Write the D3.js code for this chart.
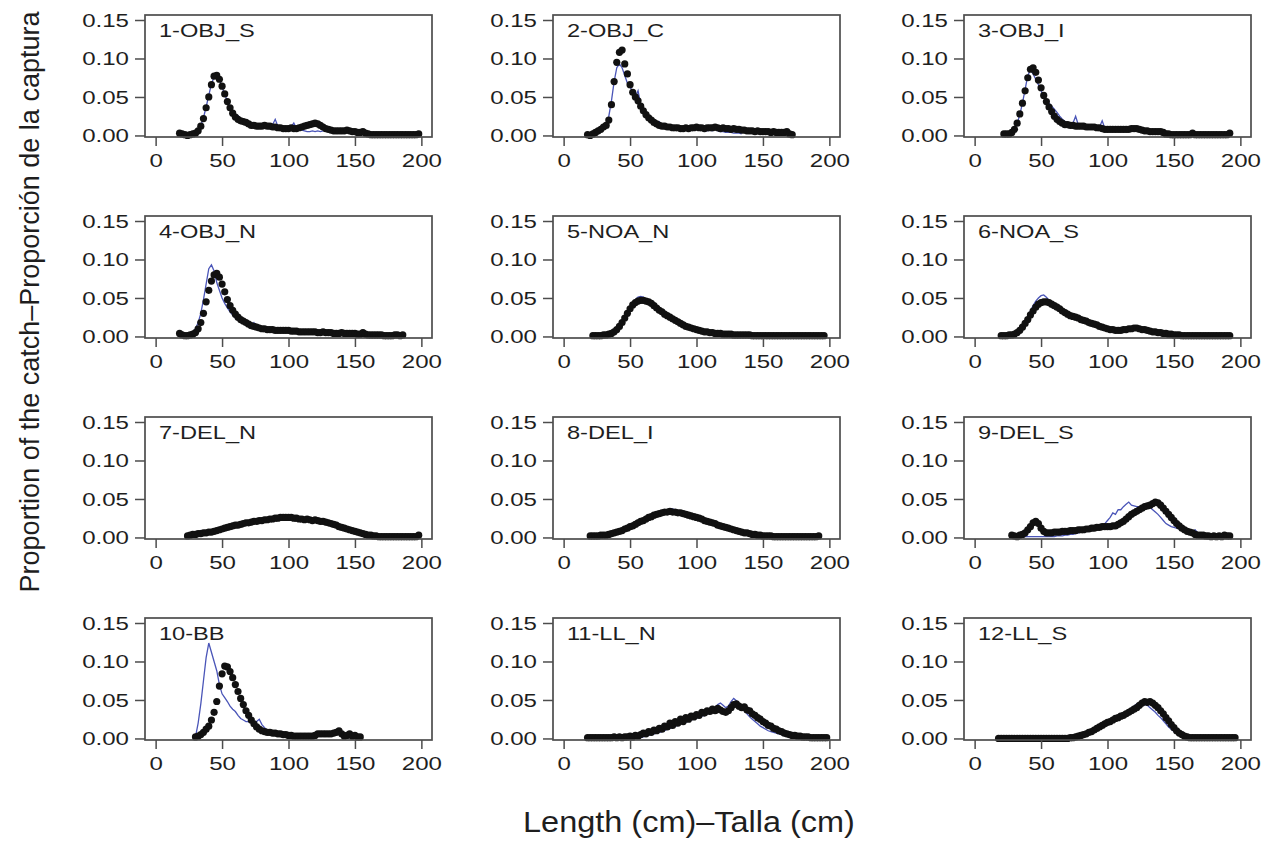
<!DOCTYPE html>
<html><head><meta charset="utf-8">
<script src="https://cdn.jsdelivr.net/npm/d3@7"></script>
<style>
body{margin:0;background:#fff}
text{font-family:"Liberation Sans",Arial,Helvetica,sans-serif;fill:#1e1e1e}
</style>
</head><body>
<svg id="chart" width="1270" height="843"></svg>
<script>
// ---------- data ----------
const panelNames = ["1-OBJ_S","2-OBJ_C","3-OBJ_I","4-OBJ_N","5-NOA_N","6-NOA_S","7-DEL_N","8-DEL_I","9-DEL_S","10-BB","11-LL_N","12-LL_S"];
const binWidth = 2; // cm between successive length classes
const xTicks = [0,50,100,150,200];
const yTicks = [0.00,0.05,0.10,0.15];
const yTickLabels = ["0.00","0.05","0.10","0.15"];
const xLabel = "Length (cm)\u2013Talla (cm)";
const yLabel = "Proportion of the catch\u2013Proporci\u00f3n de la captura";

// first length class (cm) of each series
const obsStart  = [18,18,22,18,22,20,24,20,28,30,18,18];
const predStart = [18,18,22,18,22,20,24,20,28,30,18,18];

// observed proportions (black dots)
const obs1 = [0.003,0.002,0.001,0.000,0.001,0.002,0.003,0.006,0.012,0.022,0.036,0.050,0.066,0.077,0.078,0.073,0.064,0.054,0.044,0.036,0.029,0.024,0.021,0.019,0.018,0.017,0.015,0.013,0.013,0.012,0.012,0.012,0.013,0.012,0.012,0.011,0.011,0.010,0.010,0.009,0.009,0.009,0.010,0.009,0.009,0.010,0.011,0.012,0.013,0.014,0.015,0.016,0.015,0.013,0.011,0.009,0.008,0.007,0.006,0.006,0.006,0.006,0.006,0.007,0.006,0.005,0.005,0.004,0.004,0.005,0.003,0.002,0.001,0.001,0.001,0.001,0.001,0.001,0.001,0.001,0.001,0.001,0.001,0.001,0.001,0.001,0.001,0.001,0.001,0.001,0.002];
const obs2 = [0.001,0.000,0.002,0.004,0.006,0.008,0.011,0.013,0.020,0.040,0.070,0.095,0.108,0.111,0.093,0.080,0.066,0.056,0.050,0.045,0.038,0.032,0.027,0.023,0.020,0.017,0.015,0.013,0.012,0.012,0.011,0.011,0.010,0.010,0.010,0.009,0.009,0.010,0.009,0.010,0.010,0.011,0.010,0.010,0.009,0.010,0.010,0.010,0.011,0.010,0.009,0.010,0.009,0.009,0.008,0.009,0.008,0.008,0.007,0.007,0.006,0.006,0.006,0.005,0.006,0.005,0.005,0.005,0.005,0.004,0.005,0.004,0.004,0.004,0.004,0.005,0.002,0.001];
const obs3 = [0.002,0.002,0.002,0.004,0.008,0.016,0.028,0.042,0.058,0.075,0.086,0.088,0.082,0.072,0.062,0.052,0.044,0.037,0.031,0.025,0.021,0.018,0.016,0.014,0.014,0.013,0.013,0.012,0.012,0.012,0.012,0.011,0.011,0.011,0.011,0.010,0.010,0.009,0.008,0.008,0.008,0.008,0.008,0.008,0.008,0.008,0.008,0.008,0.009,0.009,0.009,0.008,0.007,0.006,0.006,0.005,0.005,0.005,0.005,0.005,0.004,0.002,0.002,0.001,0.001,0.001,0.001,0.001,0.001,0.001,0.001,0.003,0.001,0.001,0.001,0.001,0.001,0.001,0.001,0.001,0.001,0.001,0.001,0.001,0.001,0.003];
const obs4 = [0.004,0.002,0.001,0.001,0.002,0.003,0.005,0.010,0.018,0.030,0.045,0.060,0.072,0.080,0.082,0.077,0.068,0.058,0.048,0.040,0.034,0.029,0.025,0.022,0.020,0.018,0.016,0.014,0.013,0.012,0.011,0.010,0.010,0.009,0.009,0.009,0.008,0.008,0.008,0.008,0.008,0.008,0.007,0.007,0.007,0.006,0.006,0.006,0.006,0.006,0.006,0.006,0.005,0.005,0.006,0.005,0.005,0.005,0.004,0.004,0.004,0.005,0.004,0.004,0.004,0.004,0.004,0.003,0.003,0.005,0.003,0.002,0.002,0.002,0.002,0.002,0.002,0.001,0.001,0.001,0.001,0.002,0.002,0.001,0.002];
const obs5 = [0.001,0.001,0.001,0.001,0.002,0.002,0.003,0.004,0.006,0.009,0.013,0.018,0.024,0.030,0.036,0.041,0.044,0.046,0.047,0.047,0.046,0.045,0.043,0.040,0.037,0.034,0.032,0.029,0.027,0.025,0.023,0.021,0.019,0.017,0.015,0.013,0.012,0.011,0.010,0.009,0.008,0.007,0.006,0.006,0.005,0.005,0.004,0.004,0.004,0.003,0.003,0.003,0.003,0.002,0.002,0.002,0.002,0.002,0.002,0.002,0.001,0.001,0.001,0.001,0.001,0.001,0.001,0.001,0.001,0.001,0.001,0.001,0.001,0.001,0.001,0.001,0.001,0.001,0.001,0.001,0.001,0.001,0.001,0.001,0.001,0.001,0.001,0.001];
const obs6 = [0.001,0.001,0.001,0.002,0.002,0.003,0.005,0.008,0.012,0.017,0.022,0.028,0.033,0.038,0.042,0.044,0.045,0.045,0.044,0.042,0.040,0.038,0.036,0.033,0.031,0.029,0.027,0.026,0.025,0.024,0.022,0.021,0.020,0.018,0.017,0.016,0.015,0.013,0.012,0.011,0.010,0.009,0.009,0.008,0.008,0.008,0.009,0.009,0.010,0.010,0.011,0.011,0.010,0.009,0.009,0.008,0.007,0.006,0.006,0.005,0.005,0.004,0.004,0.003,0.003,0.002,0.002,0.002,0.001,0.001,0.001,0.001,0.001,0.001,0.001,0.001,0.001,0.001,0.001,0.001,0.001,0.001,0.001,0.001,0.001,0.001,0.001];
const obs7 = [0.002,0.003,0.004,0.004,0.005,0.005,0.006,0.006,0.007,0.007,0.008,0.009,0.010,0.011,0.012,0.013,0.014,0.015,0.016,0.016,0.017,0.018,0.019,0.019,0.020,0.021,0.021,0.022,0.022,0.023,0.023,0.024,0.024,0.025,0.025,0.026,0.026,0.026,0.026,0.026,0.025,0.025,0.024,0.024,0.023,0.024,0.023,0.022,0.023,0.022,0.021,0.021,0.020,0.019,0.018,0.017,0.016,0.014,0.013,0.012,0.011,0.010,0.009,0.008,0.007,0.006,0.005,0.004,0.003,0.003,0.002,0.002,0.001,0.001,0.001,0.001,0.001,0.001,0.001,0.001,0.001,0.001,0.001,0.001,0.001,0.001,0.001,0.003];
const obs8 = [0.002,0.002,0.002,0.002,0.003,0.003,0.003,0.004,0.005,0.006,0.007,0.008,0.009,0.011,0.012,0.014,0.015,0.017,0.019,0.021,0.022,0.024,0.026,0.027,0.029,0.030,0.031,0.032,0.033,0.033,0.034,0.033,0.033,0.032,0.032,0.031,0.030,0.029,0.028,0.027,0.026,0.025,0.024,0.022,0.021,0.020,0.019,0.018,0.016,0.015,0.014,0.013,0.012,0.011,0.010,0.009,0.008,0.007,0.006,0.006,0.005,0.004,0.004,0.003,0.003,0.002,0.002,0.002,0.002,0.001,0.001,0.001,0.001,0.001,0.001,0.001,0.001,0.001,0.001,0.001,0.001,0.001,0.001,0.001,0.001,0.001,0.002];
const obs9 = [0.003,0.002,0.001,0.003,0.004,0.006,0.010,0.014,0.019,0.021,0.018,0.012,0.008,0.006,0.006,0.006,0.007,0.007,0.007,0.008,0.008,0.008,0.009,0.009,0.009,0.010,0.010,0.010,0.011,0.011,0.012,0.012,0.013,0.013,0.014,0.014,0.014,0.014,0.015,0.015,0.017,0.019,0.021,0.024,0.027,0.030,0.032,0.034,0.036,0.038,0.040,0.041,0.042,0.044,0.046,0.045,0.042,0.038,0.034,0.030,0.026,0.022,0.018,0.015,0.012,0.010,0.008,0.007,0.006,0.004,0.003,0.003,0.003,0.002,0.002,0.001,0.002,0.001,0.002,0.001,0.003,0.002,0.002];
const obs10 = [0.002,0.003,0.005,0.008,0.012,0.016,0.024,0.034,0.048,0.068,0.084,0.094,0.093,0.087,0.079,0.070,0.061,0.052,0.044,0.036,0.030,0.024,0.019,0.015,0.012,0.010,0.009,0.008,0.008,0.007,0.007,0.006,0.006,0.005,0.005,0.004,0.004,0.003,0.003,0.003,0.003,0.003,0.003,0.003,0.003,0.004,0.006,0.006,0.006,0.006,0.006,0.006,0.007,0.008,0.010,0.006,0.003,0.004,0.006,0.003,0.004,0.002,0.002];
const obs11 = [0.001,0.001,0.001,0.001,0.001,0.001,0.001,0.001,0.001,0.001,0.002,0.001,0.002,0.001,0.002,0.002,0.003,0.002,0.004,0.003,0.005,0.007,0.006,0.009,0.008,0.011,0.010,0.013,0.012,0.016,0.015,0.020,0.017,0.022,0.020,0.025,0.022,0.027,0.025,0.029,0.028,0.031,0.030,0.034,0.033,0.036,0.035,0.038,0.036,0.039,0.037,0.035,0.034,0.036,0.040,0.044,0.045,0.042,0.040,0.041,0.037,0.036,0.032,0.030,0.027,0.025,0.022,0.020,0.017,0.016,0.013,0.012,0.010,0.009,0.007,0.006,0.005,0.004,0.004,0.003,0.003,0.002,0.002,0.002,0.001,0.001,0.001,0.001,0.001,0.001,0.001];
const obs12 = [0.000,0.000,0.000,0.000,0.000,0.000,0.000,0.000,0.000,0.000,0.000,0.000,0.000,0.000,0.000,0.000,0.000,0.000,0.000,0.000,0.000,0.000,0.000,0.000,0.000,0.000,0.000,0.001,0.001,0.002,0.003,0.004,0.005,0.006,0.008,0.009,0.011,0.013,0.015,0.017,0.019,0.021,0.022,0.024,0.026,0.027,0.029,0.030,0.032,0.034,0.036,0.038,0.040,0.043,0.046,0.048,0.047,0.048,0.046,0.043,0.040,0.036,0.032,0.027,0.023,0.018,0.014,0.010,0.007,0.005,0.003,0.002,0.001,0.001,0.001,0.001,0.001,0.001,0.001,0.001,0.001,0.001,0.001,0.001,0.001,0.001,0.001,0.001,0.001,0.001];

// predicted proportions (blue line)
const pred1 = [0.001,0.001,0.001,0.001,0.002,0.003,0.004,0.007,0.013,0.023,0.037,0.052,0.067,0.076,0.077,0.072,0.063,0.053,0.045,0.037,0.031,0.027,0.026,0.022,0.020,0.018,0.016,0.014,0.014,0.013,0.013,0.012,0.012,0.012,0.012,0.014,0.021,0.012,0.010,0.010,0.009,0.009,0.011,0.016,0.009,0.008,0.007,0.006,0.005,0.005,0.006,0.005,0.006,0.005,0.006,0.007,0.007,0.006,0.006,0.006,0.005,0.005,0.005,0.006,0.005,0.005,0.004,0.004,0.003,0.003,0.002,0.002,0.001,0.001,0.001,0.001,0.001,0.001,0.001,0.001,0.001,0.001,0.001,0.001,0.001,0.001,0.001,0.001,0.001,0.001,0.001];
const pred2 = [0.000,0.001,0.002,0.003,0.005,0.007,0.010,0.015,0.025,0.045,0.070,0.088,0.093,0.088,0.078,0.068,0.062,0.058,0.050,0.058,0.040,0.034,0.030,0.025,0.023,0.020,0.016,0.018,0.013,0.012,0.011,0.010,0.010,0.009,0.009,0.009,0.008,0.012,0.008,0.008,0.007,0.008,0.007,0.007,0.008,0.006,0.007,0.006,0.012,0.006,0.005,0.005,0.004,0.004,0.004,0.003,0.003,0.003,0.002];
const pred3 = [0.001,0.001,0.002,0.004,0.008,0.015,0.027,0.042,0.060,0.078,0.085,0.080,0.073,0.066,0.058,0.050,0.045,0.042,0.038,0.034,0.030,0.025,0.021,0.018,0.016,0.015,0.016,0.025,0.014,0.013,0.012,0.012,0.011,0.011,0.011,0.010,0.011,0.019,0.009,0.008,0.007,0.007,0.007,0.007,0.007,0.006,0.006,0.007,0.008,0.007,0.006,0.005,0.004,0.003,0.003,0.003,0.002,0.002];
const pred4 = [0.001,0.001,0.002,0.003,0.004,0.006,0.010,0.018,0.030,0.048,0.068,0.088,0.093,0.085,0.070,0.060,0.050,0.043,0.037,0.032,0.028,0.024,0.021,0.019,0.017,0.015,0.014,0.013,0.018,0.012,0.011,0.010,0.009,0.009,0.008,0.008,0.008,0.008,0.007,0.007,0.007,0.007,0.006,0.006,0.006,0.006,0.005,0.005,0.005,0.005,0.005,0.005,0.004,0.004,0.004,0.004,0.004,0.004,0.003,0.003,0.003,0.003,0.003,0.003,0.002,0.002,0.002];
const pred5 = [0.000,0.000,0.001,0.001,0.001,0.002,0.002,0.003,0.005,0.008,0.012,0.017,0.023,0.030,0.037,0.043,0.048,0.051,0.052,0.051,0.048,0.045,0.042,0.039,0.036,0.033,0.030,0.028,0.026,0.024,0.022,0.020,0.018,0.016,0.014,0.013,0.012,0.011,0.010,0.009,0.008,0.007,0.006,0.005,0.005,0.004,0.004,0.003,0.003,0.003,0.002,0.002,0.002,0.002,0.001,0.001,0.001,0.001,0.001,0.001,0.001,0.001,0.001,0.001,0.001];
const pred6 = [0.000,0.001,0.001,0.001,0.002,0.003,0.005,0.008,0.013,0.019,0.026,0.033,0.040,0.046,0.050,0.053,0.054,0.051,0.047,0.043,0.040,0.037,0.034,0.031,0.029,0.027,0.025,0.024,0.022,0.021,0.020,0.019,0.018,0.017,0.016,0.015,0.014,0.013,0.012,0.011,0.010,0.009,0.009,0.008,0.008,0.008,0.008,0.008,0.009,0.009,0.009,0.009,0.008,0.008,0.007,0.006,0.006,0.005,0.004,0.004,0.003,0.003,0.003,0.002,0.002,0.002,0.001,0.001,0.001,0.001,0.001];
const pred7 = [0.002,0.003,0.004,0.005,0.006,0.009,0.008,0.007,0.007,0.008,0.008,0.009,0.010,0.011,0.012,0.013,0.014,0.015,0.016,0.017,0.018,0.018,0.019,0.020,0.021,0.021,0.022,0.022,0.023,0.023,0.024,0.024,0.025,0.025,0.026,0.026,0.027,0.027,0.027,0.026,0.026,0.025,0.025,0.024,0.024,0.023,0.023,0.022,0.022,0.021,0.020,0.020,0.019,0.018,0.017,0.016,0.015,0.013,0.012,0.011,0.010,0.009,0.008,0.007,0.006,0.005,0.004,0.003,0.003,0.002,0.002,0.001,0.001,0.001,0.001,0.001,0.001,0.001,0.001,0.001,0.001,0.001,0.001,0.001,0.001,0.001,0.001,0.001];
const pred8 = [0.001,0.001,0.002,0.002,0.002,0.003,0.003,0.004,0.004,0.005,0.006,0.007,0.008,0.010,0.011,0.013,0.014,0.016,0.018,0.020,0.022,0.024,0.026,0.028,0.030,0.031,0.033,0.034,0.035,0.036,0.037,0.037,0.036,0.035,0.034,0.033,0.031,0.030,0.029,0.027,0.026,0.024,0.023,0.021,0.020,0.019,0.017,0.016,0.015,0.014,0.013,0.012,0.011,0.010,0.009,0.008,0.007,0.006,0.005,0.005,0.004,0.004,0.003,0.003,0.002,0.002,0.002,0.002,0.001,0.001,0.001];
const pred9 = [0.001,0.001,0.001,0.001,0.001,0.001,0.001,0.001,0.001,0.001,0.001,0.001,0.001,0.001,0.001,0.001,0.001,0.002,0.002,0.002,0.003,0.003,0.004,0.004,0.005,0.006,0.007,0.008,0.009,0.010,0.011,0.012,0.013,0.015,0.016,0.018,0.022,0.026,0.032,0.030,0.036,0.036,0.040,0.043,0.046,0.042,0.041,0.040,0.040,0.040,0.040,0.040,0.039,0.036,0.033,0.030,0.026,0.022,0.018,0.016,0.014,0.013,0.012,0.011,0.010,0.009,0.008,0.007,0.008,0.010,0.006,0.003,0.002,0.001,0.001];
const pred10 = [0.002,0.020,0.045,0.075,0.105,0.124,0.112,0.100,0.088,0.070,0.058,0.053,0.048,0.042,0.038,0.035,0.030,0.026,0.024,0.022,0.022,0.020,0.019,0.022,0.025,0.018,0.014,0.011,0.009,0.008,0.007,0.006,0.006,0.006,0.005,0.005,0.004,0.004,0.003,0.003,0.003,0.003,0.003,0.003,0.003,0.003];
const pred11 = [0.000,0.000,0.000,0.000,0.000,0.000,0.000,0.000,0.000,0.000,0.000,0.000,0.000,0.000,0.000,0.000,0.000,0.000,0.000,0.000,0.001,0.002,0.003,0.004,0.005,0.006,0.007,0.008,0.009,0.010,0.012,0.013,0.014,0.016,0.017,0.019,0.020,0.021,0.023,0.024,0.025,0.026,0.028,0.029,0.030,0.032,0.033,0.036,0.040,0.044,0.046,0.043,0.040,0.042,0.048,0.052,0.049,0.044,0.040,0.036,0.032,0.028,0.025,0.022,0.019,0.016,0.014,0.012,0.010,0.009,0.008,0.007,0.006,0.005,0.004,0.004,0.003,0.003,0.002,0.002,0.002,0.001,0.001,0.001,0.001,0.001,0.001,0.001,0.001,0.001,0.001];
const pred12 = [0.000,0.000,0.000,0.000,0.000,0.000,0.000,0.000,0.000,0.000,0.000,0.000,0.000,0.000,0.000,0.000,0.000,0.000,0.000,0.000,0.000,0.000,0.000,0.000,0.000,0.000,0.000,0.000,0.000,0.001,0.002,0.003,0.004,0.005,0.007,0.008,0.010,0.012,0.014,0.016,0.018,0.020,0.022,0.024,0.026,0.028,0.030,0.032,0.034,0.037,0.040,0.042,0.045,0.044,0.045,0.044,0.043,0.040,0.037,0.034,0.030,0.027,0.023,0.019,0.015,0.012,0.009,0.006,0.004,0.003,0.002,0.001,0.001,0.001,0.001,0.001,0.001,0.001,0.001,0.001,0.001,0.001,0.001,0.001,0.001,0.001,0.001,0.001,0.001,0.001];

const obsValues  = [obs1,obs2,obs3,obs4,obs5,obs6,obs7,obs8,obs9,obs10,obs11,obs12];
const predValues = [pred1,pred2,pred3,pred4,pred5,pred6,pred7,pred8,pred9,pred10,pred11,pred12];

// ---------- layout ----------
const colLeft = [145, 553, 964];
const rowTop  = [15, 216, 417, 618];
const W = 287, H = 122;
const SX = 1.3; // horizontal glyph stretch seen in the reference
const axisColor = "#4d4d4d";

const svg = d3.select("#chart");
const x = d3.scaleLinear().domain([-8, 208]).range([0, W]);
const y = d3.scaleLinear().domain([-0.002, 0.1565]).range([H, 0]);

panelNames.forEach((name, p) => {
  const g = svg.append("g")
    .attr("transform", `translate(${colLeft[p % 3]},${rowTop[Math.floor(p / 3)]})`);

  // blue predicted line
  const pStart = predStart[p];
  const line = d3.line()
    .x((d, i) => x(pStart + i * binWidth))
    .y(d => y(d));
  g.append("path")
    .datum(predValues[p])
    .attr("d", line)
    .attr("fill", "none")
    .attr("stroke", "#4a55b8")
    .attr("stroke-width", 1.3);

  // black observed dots
  const oStart = obsStart[p];
  g.selectAll("circle.obs")
    .data(obsValues[p])
    .join("circle")
    .attr("class", "obs")
    .attr("cx", (d, i) => x(oStart + i * binWidth))
    .attr("cy", d => y(d))
    .attr("r", 3.6)
    .attr("fill", "#111");

  // box
  g.append("rect")
    .attr("x", 0).attr("y", 0).attr("width", W).attr("height", H)
    .attr("fill", "none").attr("stroke", axisColor).attr("stroke-width", 1.7);

  // x axis
  const xa = g.append("g").attr("transform", `translate(0,${H})`)
    .call(d3.axisBottom(x).tickValues(xTicks).tickSize(9).tickFormat(d3.format("d")));
  xa.select(".domain").remove();
  xa.selectAll(".tick line").attr("stroke", axisColor).attr("stroke-width", 1.5);
  xa.selectAll(".tick text")
    .attr("y", 0).attr("dy", null)
    .attr("transform", `translate(0,30) scale(${SX},1)`)
    .attr("font-size", 18.5).attr("fill", "#1e1e1e")
    .attr("font-family", '"Liberation Sans",Arial,sans-serif');

  // y axis
  const ya = g.append("g")
    .call(d3.axisLeft(y).tickValues(yTicks).tickSize(10)
      .tickFormat((d, i) => yTickLabels[i]));
  ya.select(".domain").remove();
  ya.selectAll(".tick line").attr("stroke", axisColor).attr("stroke-width", 1.5);
  ya.selectAll(".tick text")
    .attr("x", 0).attr("dy", null)
    .attr("transform", `translate(-16,6.5) scale(${SX},1)`)
    .attr("font-size", 18.5).attr("fill", "#1e1e1e")
    .attr("font-family", '"Liberation Sans",Arial,sans-serif');

  // panel title
  g.append("text")
    .attr("transform", `translate(14,22) scale(${SX + 0.05},1)`)
    .attr("font-size", 17.5)
    .text(name);
});

// axis titles
svg.append("text")
  .attr("transform", `translate(689,832) scale(1.12,1)`)
  .attr("text-anchor", "middle")
  .attr("font-size", 29)
  .text(xLabel);

svg.append("text")
  .attr("transform", "translate(39,302) rotate(-90)")
  .attr("text-anchor", "middle")
  .attr("font-size", 27)
  .text(yLabel);
</script>
</body></html>
